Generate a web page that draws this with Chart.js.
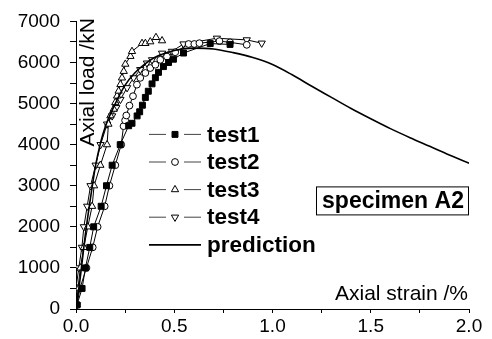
<!DOCTYPE html>
<html>
<head>
<meta charset="utf-8">
<script src="https://cdn.jsdelivr.net/npm/chart.js@4.4.1/dist/chart.umd.min.js"></script>
<style>
html,body{margin:0;padding:0;background:#fff;}
#wrap{width:492px;height:339px;position:relative;}
</style>
</head>
<body>
<div id="wrap"><canvas id="c"></canvas></div>
<script>
// ---- data (strain in %, load in kN) ----
const test1Strain = [0.005, 0.031, 0.048, 0.07, 0.09, 0.128, 0.155, 0.184, 0.225, 0.268, 0.285, 0.311, 0.324, 0.338, 0.353, 0.368, 0.387, 0.404, 0.42, 0.445, 0.471, 0.496, 0.547, 0.683, 0.784];
const test1Load   = [100, 500, 1000, 1500, 2000, 2500, 3000, 3500, 4000, 4460, 4520, 4700, 4800, 4960, 5150, 5300, 5480, 5630, 5760, 5900, 6000, 6080, 6230, 6460, 6440];

const test2Strain = [0.005, 0.02, 0.053, 0.085, 0.11, 0.146, 0.17, 0.2, 0.23, 0.242, 0.25, 0.256, 0.272, 0.29, 0.31, 0.327, 0.353, 0.378, 0.404, 0.429, 0.463, 0.505, 0.573, 0.602, 0.628, 0.73, 0.784, 0.869];
const test2Load   = [100, 500, 1000, 1500, 2000, 2500, 3000, 3500, 4000, 4450, 4590, 4710, 4950, 5180, 5460, 5625, 5745, 5865, 5945, 6065, 6145, 6250, 6450, 6450, 6470, 6520, 6490, 6430];

const test3Strain = [0.005, 0.01, 0.022, 0.04, 0.06, 0.082, 0.092, 0.124, 0.158, 0.165, 0.175, 0.192, 0.2, 0.209, 0.217, 0.226, 0.234, 0.243, 0.251, 0.277, 0.285, 0.336, 0.353, 0.378, 0.407, 0.438];
const test3Load   = [100, 500, 1000, 1500, 2000, 2500, 3000, 3500, 4000, 4500, 4705, 4865, 5025, 5185, 5305, 5465, 5625, 5785, 5960, 6150, 6270, 6465, 6465, 6505, 6610, 6530];

const test4Strain = [0.005, 0.0, 0.014, 0.03, 0.04, 0.057, 0.074, 0.1, 0.125, 0.158, 0.184, 0.205, 0.226, 0.26, 0.293, 0.327, 0.361, 0.387, 0.438, 0.488, 0.547, 0.717, 0.869, 0.945];
const test4Load   = [100, 500, 1000, 1500, 2000, 2500, 3000, 3500, 4000, 4500, 4700, 4900, 5100, 5385, 5625, 5825, 5985, 6065, 6225, 6270, 6450, 6590, 6550, 6470];

const predStrain = [0, 0.02, 0.05, 0.08, 0.1, 0.125, 0.15, 0.2, 0.25, 0.3, 0.35, 0.4, 0.5, 0.6, 0.7, 0.8, 0.9, 1.0, 1.1, 1.2, 1.3, 1.4, 1.5, 1.6, 1.7, 1.8, 1.9, 2.0];
const predLoad   = [0, 700, 1900, 2900, 3500, 4050, 4450, 5000, 5450, 5750, 5960, 6120, 6290, 6350, 6330, 6240, 6120, 5950, 5700, 5420, 5150, 4880, 4630, 4390, 4170, 3960, 3750, 3550];

const seriesNames = ['test1', 'test2', 'test3', 'test4', 'prediction'];
const xAxisTitle = 'Axial strain /%';
const yAxisTitle = 'Axial load /kN';
const boxLabel = 'specimen A2';
const xRange = [0, 2.0];
const yRange = [0, 7000];

const pts = (xs, ys) => xs.map((x, i) => ({x: x, y: ys[i]}));
const FONT = '"Liberation Sans", Arial, sans-serif';

const markerStyles = [
  {pointStyle: 'rect', rot: 0, radius: 4.2, fill: '#000'},
  {pointStyle: 'circle', rot: 0, radius: 3.4, fill: '#fff'},
  {pointStyle: 'triangle', rot: 0, radius: 4.2, fill: '#fff'},
  {pointStyle: 'triangle', rot: 180, radius: 4.2, fill: '#fff'}
];
const testData = [pts(test1Strain, test1Load), pts(test2Strain, test2Load), pts(test3Strain, test3Load), pts(test4Strain, test4Load)];

const datasets = testData.map((d, i) => ({
  label: seriesNames[i],
  data: d,
  borderColor: '#000',
  borderWidth: 1,
  pointStyle: markerStyles[i].pointStyle,
  pointRotation: markerStyles[i].rot,
  pointRadius: markerStyles[i].radius,
  pointBackgroundColor: markerStyles[i].fill,
  pointBorderColor: '#000',
  pointBorderWidth: 1,
  tension: 0,
  order: 2
}));
datasets.push({
  label: seriesNames[4],
  data: pts(predStrain, predLoad),
  borderColor: '#000',
  borderWidth: 1.6,
  pointRadius: 0,
  cubicInterpolationMode: 'monotone',
  order: 1
});

const overlay = {
  id: 'overlay',
  afterDraw(chart) {
    const ctx = chart.ctx;
    const a = chart.chartArea;
    ctx.save();
    ctx.fillStyle = '#000';
    ctx.strokeStyle = '#000';
    // y title inside plot
    ctx.save();
    ctx.translate(a.left + 12, a.top + 61);
    ctx.rotate(-Math.PI / 2);
    ctx.font = '21px ' + FONT;
    ctx.textAlign = 'center';
    ctx.textBaseline = 'middle';
    ctx.fillText(yAxisTitle, 0, 0);
    ctx.restore();
    // x title inside plot
    ctx.font = '21px ' + FONT;
    ctx.textAlign = 'right';
    ctx.textBaseline = 'middle';
    ctx.fillText(xAxisTitle, a.right - 1, a.bottom - 15);
    // legend
    const lx0 = a.left + 73, lx1 = a.left + 125, ltx = a.left + 131;
    ctx.font = 'bold 22.5px ' + FONT;
    ctx.textAlign = 'left';
    for (let i = 0; i < seriesNames.length; i++) {
      const y = a.top + 113 + i * 27.6;
      const mx = (lx0 + lx1) / 2;
      ctx.beginPath();
      if (i < 4) {
        ctx.lineWidth = 1;
        ctx.strokeStyle = '#444';
        ctx.moveTo(lx0, y); ctx.lineTo(mx - 9, y);
        ctx.moveTo(mx + 9, y); ctx.lineTo(lx1, y);
        ctx.stroke();
        const ms = markerStyles[i];
        ctx.fillStyle = ms.fill; ctx.strokeStyle = '#000'; ctx.lineWidth = 1;
        ctx.beginPath();
        Chart.helpers.drawPoint(ctx, {pointStyle: ms.pointStyle, radius: ms.radius, rotation: ms.rot, borderWidth: 1}, mx, y);
      } else {
        ctx.lineWidth = 1.8;
        ctx.strokeStyle = '#000';
        ctx.moveTo(lx0, y); ctx.lineTo(lx1, y);
        ctx.stroke();
      }
      ctx.fillStyle = '#000';
      ctx.textBaseline = 'middle';
      ctx.fillText(seriesNames[i], ltx, y + 1);
    }
    // specimen box
    ctx.lineWidth = 1;
    ctx.strokeStyle = '#000';
    ctx.strokeRect(a.left + 240.5, a.top + 165.5, 152, 28);
    ctx.font = 'bold 23px ' + FONT;
    ctx.textAlign = 'center';
    ctx.textBaseline = 'middle';
    ctx.fillText(boxLabel, a.left + 317, a.top + 180);
    ctx.restore();
  }
};

new Chart(document.getElementById('c'), {
  type: 'line',
  data: {datasets: datasets},
  options: {
    responsive: true,
    maintainAspectRatio: false,
    animation: false,
    layout: {padding: {top: 18, right: 23, left: 0, bottom: 0}},
    plugins: {legend: {display: false}, tooltip: {enabled: false}},
    scales: {
      x: {
        type: 'linear',
        min: xRange[0], max: xRange[1],
        border: {display: true, color: '#000', width: 1},
        grid: {display: true, drawOnChartArea: false, drawTicks: true, tickLength: 4, color: '#000'},
        ticks: {
          stepSize: 0.25, color: '#000', padding: 2, maxRotation: 0, autoSkip: false,
          font: {family: FONT, size: 19},
          callback: (v) => (Math.abs(v * 2 - Math.round(v * 2)) < 1e-6 ? v.toFixed(1) : '')
        },
        afterFit: (s) => { s.height = 30; }
      },
      y: {
        type: 'linear',
        min: yRange[0], max: yRange[1],
        border: {display: true, color: '#000', width: 1},
        grid: {display: true, drawOnChartArea: false, drawTicks: true, tickLength: 6, color: '#000'},
        ticks: {
          stepSize: 500, color: '#000', padding: 10, autoSkip: false,
          font: {family: FONT, size: 19},
          callback: (v) => (v % 1000 === 0 ? String(v) : '')
        },
        afterFit: (s) => { s.width = 76; }
      }
    }
  },
  plugins: [overlay]
});
</script>
</body>
</html>
